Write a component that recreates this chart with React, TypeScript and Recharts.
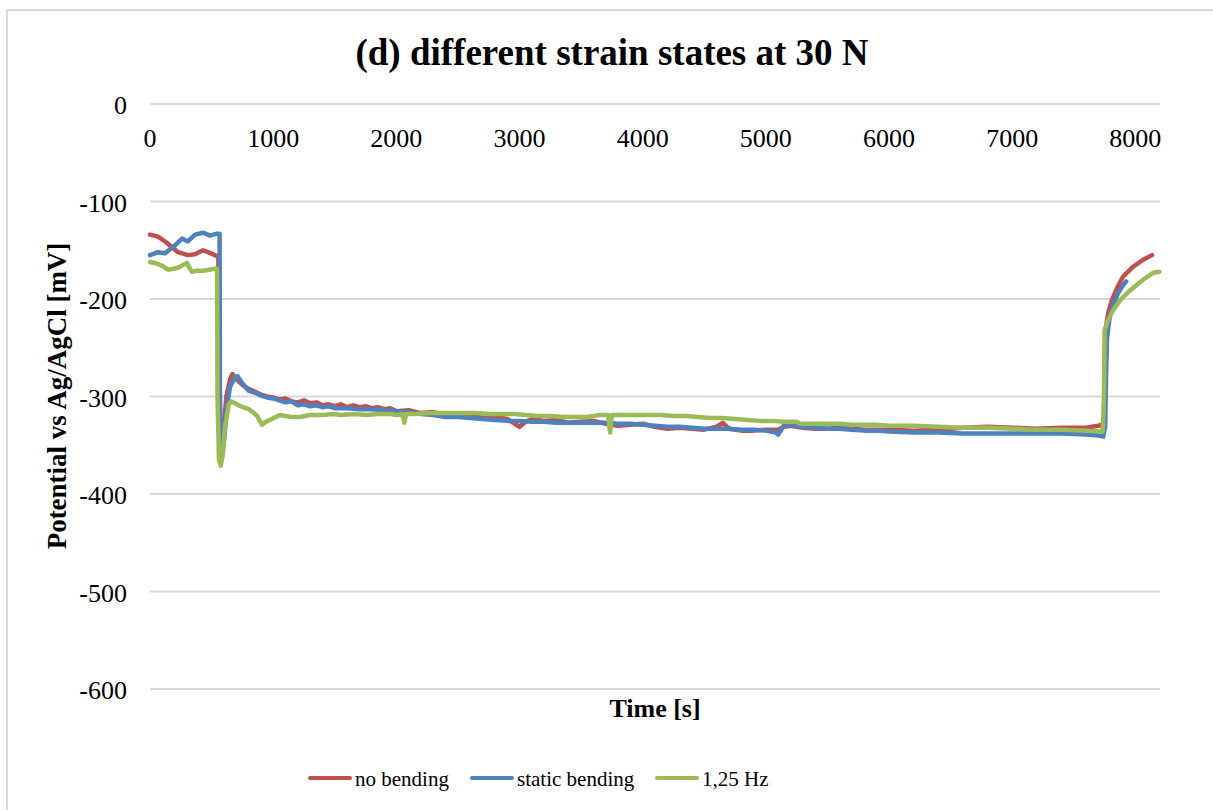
import React from 'react';
import { LineChart, Line, XAxis, YAxis, CartesianGrid } from 'recharts';

const FONT = "'Liberation Serif', 'Times New Roman', Times, serif";

const xTicks = [0, 1000, 2000, 3000, 4000, 5000, 6000, 7000, 8000];
const yTicks = [-600, -500, -400, -300, -200, -100, 0];

const noBending: [number, number][] = [
  [0,-134],[65,-136],[122,-141],[162,-145],[227,-152],[308,-155],[365,-154],[430,-150],[470,-152],[510,-154],[544,-156],[555,-157],[560,-300],[570,-352],[585,-355],[600,-330],[620,-300],[650,-282],[670,-277],[690,-281],[710,-283],[740,-287],[770,-290],[800,-292],[850,-295],[900,-298],[950,-300],[1000,-301],[1050,-303],[1100,-302],[1150,-305],[1200,-306],[1250,-304],[1300,-307],[1350,-306],[1400,-309],[1450,-308],[1500,-310],[1550,-308],[1600,-311],[1650,-309],[1700,-311],[1750,-310],[1800,-312],[1850,-311],[1900,-313],[1950,-312],[2000,-315],[2100,-314],[2200,-317],[2300,-316],[2400,-319],[2500,-320],[2600,-318],[2700,-322],[2800,-321],[2900,-323],[3000,-331],[3050,-326],[3100,-323],[3200,-325],[3300,-324],[3400,-327],[3500,-326],[3600,-325],[3700,-328],[3800,-330],[3900,-329],[4000,-328],[4100,-331],[4200,-333],[4300,-332],[4400,-333],[4500,-334],[4600,-331],[4650,-327],[4700,-333],[4800,-335],[4900,-335],[5000,-334],[5100,-334],[5150,-331],[5200,-330],[5300,-332],[5400,-333],[5500,-333],[5600,-332],[5700,-333],[5800,-334],[5900,-334],[6000,-334],[6200,-335],[6400,-334],[6600,-332],[6800,-331],[7000,-332],[7200,-333],[7400,-332],[7600,-332],[7700,-330],[7730,-329],[7745,-333],[7752,-260],[7760,-230],[7780,-214],[7810,-201],[7850,-189],[7900,-177],[7980,-167],[8060,-160],[8135,-155]
];

const staticBending: [number, number][] = [
  [0,-155],[65,-152],[122,-153],[203,-145],[260,-138],[308,-141],[365,-134],[430,-132],[487,-135],[544,-133],[565,-133],[568,-300],[575,-345],[590,-358],[605,-340],[625,-310],[650,-290],[690,-280],[710,-279],[730,-283],[760,-288],[800,-294],[850,-296],[900,-299],[950,-301],[1000,-302],[1050,-304],[1100,-306],[1150,-305],[1200,-309],[1250,-308],[1300,-310],[1350,-309],[1400,-311],[1450,-310],[1500,-312],[1600,-312],[1700,-313],[1800,-313],[1900,-314],[2000,-315],[2100,-316],[2200,-318],[2300,-319],[2400,-321],[2500,-321],[2600,-322],[2700,-323],[2800,-324],[2900,-325],[3000,-325],[3100,-326],[3200,-326],[3300,-327],[3400,-327],[3500,-327],[3600,-327],[3700,-327],[3800,-328],[3900,-328],[4000,-329],[4100,-330],[4200,-331],[4300,-331],[4400,-332],[4500,-333],[4600,-333],[4700,-333],[4800,-334],[4900,-334],[5000,-335],[5080,-337],[5100,-339],[5130,-333],[5150,-329],[5250,-330],[5300,-331],[5400,-332],[5500,-333],[5600,-333],[5700,-334],[5800,-335],[5900,-335],[6000,-336],[6200,-337],[6400,-337],[6600,-338],[6800,-338],[7000,-338],[7200,-338],[7400,-338],[7600,-339],[7700,-340],[7740,-341],[7755,-330],[7762,-280],[7770,-240],[7790,-220],[7820,-206],[7860,-194],[7900,-186],[7925,-182]
];

const hz125: [number, number][] = [
  [0,-162],[40,-163],[100,-166],[146,-170],[190,-169],[227,-168],[270,-165],[300,-163],[320,-168],[341,-172],[380,-171],[430,-171],[480,-170],[520,-169],[545,-169],[548,-300],[560,-365],[575,-371],[590,-360],[610,-330],[640,-308],[660,-305],[690,-307],[720,-309],[755,-311],[800,-313],[836,-316],[870,-320],[909,-329],[940,-326],[974,-324],[1020,-321],[1055,-319],[1100,-320],[1150,-321],[1218,-321],[1300,-319],[1400,-319],[1486,-318],[1550,-319],[1650,-318],[1762,-319],[1850,-318],[1950,-318],[2005,-319],[2050,-318],[2065,-327],[2080,-318],[2150,-318],[2250,-317],[2350,-317],[2450,-317],[2550,-317],[2650,-317],[2750,-318],[2850,-318],[2950,-318],[3050,-319],[3150,-320],[3250,-320],[3350,-321],[3450,-321],[3550,-321],[3650,-319],[3720,-319],[3735,-337],[3750,-319],[3850,-319],[3950,-319],[4050,-319],[4150,-319],[4250,-320],[4350,-320],[4450,-321],[4550,-322],[4650,-322],[4750,-323],[4850,-324],[4950,-325],[5050,-325],[5150,-326],[5250,-326],[5280,-328],[5400,-328],[5500,-328],[5600,-328],[5700,-329],[5800,-329],[5900,-329],[6000,-330],[6200,-330],[6400,-331],[6600,-332],[6800,-332],[7000,-333],[7200,-334],[7400,-334],[7600,-335],[7700,-336],[7735,-336],[7745,-300],[7750,-232],[7780,-221],[7822,-211],[7878,-201],[7959,-191],[8065,-180],[8147,-173],[8195,-172]
];

const seriesNames = ['no bending', 'static bending', '1,25 Hz'];
const seriesColors = ['#C0504D', '#4F81BD', '#9BBB59'];
const seriesData = [noBending, staticBending, hz125].map((s) => s.map(([t, v]) => ({ t, v })));

const textStyle = { fontFamily: FONT, fontWeight: 400 as const };
const boldStyle = { fontFamily: FONT, fontWeight: 700 as const };

const XTick = (props: any) => (
  <text x={props.x} y={147} textAnchor="middle" fontSize={26} style={textStyle} fill="#000">
    {props.payload.value}
  </text>
);

const YTick = (props: any) => (
  <text x={props.x} y={props.y + 10} textAnchor="end" fontSize={26} style={textStyle} fill="#000">
    {props.payload.value}
  </text>
);

const legendX = [310, 472, 657];

export default function App() {
  return (
    <div style={{ position: 'absolute', left: 0, top: 0, width: 1213, height: 810, background: '#fff', overflow: 'hidden', fontFamily: FONT }}>
      <div style={{ position: 'absolute', left: 6, top: 9, width: 1207, height: 801, borderTop: '2px solid #d9d9d9', borderLeft: '2px solid #d9d9d9', boxSizing: 'border-box' }} />
      <div style={{ position: 'absolute', left: 0, top: 0 }}>
        <LineChart width={1213} height={810} margin={{ top: 74, right: 53, bottom: 121, left: 50 }} style={{ fontFamily: FONT }}>
          <CartesianGrid horizontal vertical={false} stroke="#d9d9d9" strokeWidth={2} />
          <XAxis
            dataKey="t"
            type="number"
            orientation="top"
            height={30}
            domain={[0, 8200]}
            ticks={xTicks}
            axisLine={false}
            tickLine={false}
            tick={<XTick />}
            allowDuplicatedCategory={false}
          />
          <YAxis
            type="number"
            width={100}
            domain={[-600, 0]}
            ticks={yTicks}
            axisLine={false}
            tickLine={false}
            tickSize={6}
            tickMargin={17}
            tick={<YTick />}
          />
          {seriesData.map((d, i) => (
            <Line
              key={seriesNames[i]}
              data={d}
              dataKey="v"
              name={seriesNames[i]}
              type="linear"
              stroke={seriesColors[i]}
              strokeWidth={4.5}
              strokeLinejoin="round"
              strokeLinecap="round"
              dot={false}
              activeDot={false}
              isAnimationActive={false}
            />
          ))}
        </LineChart>
      </div>
      <svg width={1213} height={810} style={{ position: 'absolute', left: 0, top: 0, pointerEvents: 'none' }}>
        <text x={612} y={65} textAnchor="middle" fontSize={37} style={boldStyle} fill="#000">
          (d) different strain states at 30 N
        </text>
        <text x={655} y={717} textAnchor="middle" fontSize={26} style={boldStyle} fill="#000">
          Time [s]
        </text>
        <text transform="translate(66,396) rotate(-90)" textAnchor="middle" fontSize={27} style={boldStyle} fill="#000">
          Potential vs Ag/AgCl [mV]
        </text>
        {seriesNames.map((n, i) => (
          <g key={n}>
            <line x1={legendX[i]} x2={legendX[i] + 40} y1={778} y2={778} stroke={seriesColors[i]} strokeWidth={4} strokeLinecap="round" />
            <text x={legendX[i] + 45} y={786} fontSize={21} style={textStyle} fill="#000">{n}</text>
          </g>
        ))}
      </svg>
    </div>
  );
}
